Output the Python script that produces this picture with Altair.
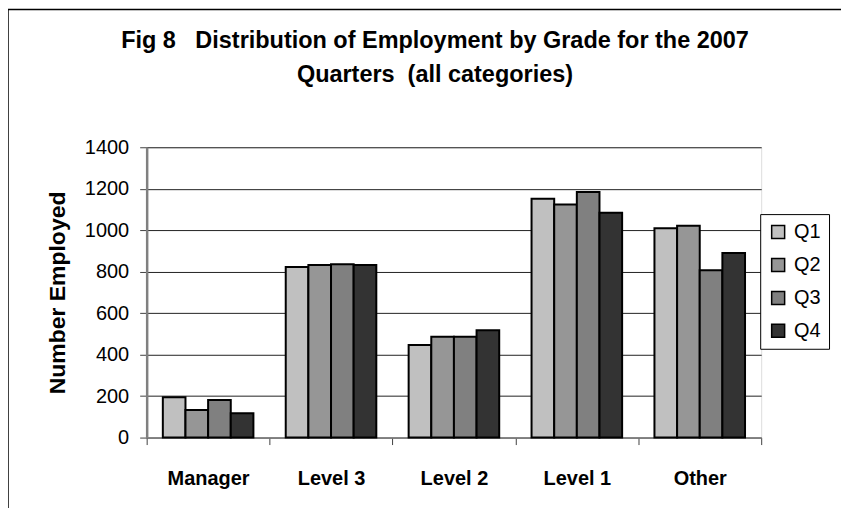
import altair as alt
import pandas as pd

grades = ["Manager", "Level 3", "Level 2", "Level 1", "Other"]
quarters = ["Q1", "Q2", "Q3", "Q4"]
q1 = [194, 823, 446, 1152, 1010]
q2 = [133, 832, 486, 1124, 1022]
q3 = [181, 836, 486, 1184, 807]
q4 = [117, 832, 517, 1084, 890]
colors = ["#c0c0c0", "#969696", "#808080", "#333333"]
y_ticks = [0, 200, 400, 600, 800, 1000, 1200, 1400]
title_lines = ["Fig 8\u00a0\u00a0\u00a0Distribution of Employment by Grade for the 2007",
               "Quarters\u00a0\u00a0(all categories)"]

rows = []
for qi, series in zip(quarters, [q1, q2, q3, q4]):
    for g, v in zip(grades, series):
        rows.append({"Grade": g, "Quarter": qi, "Employed": v})
df = pd.DataFrame(rows)

FONT = "Liberation Sans"

bars = alt.Chart(df).mark_bar(stroke="black", strokeWidth=2).encode(
    x=alt.X("Grade:N", sort=grades,
            scale=alt.Scale(paddingInner=0, paddingOuter=0),
            axis=alt.Axis(title=None, labelAngle=0, tickBand="extent",
                          labelFont=FONT, labelFontSize=20, labelFontWeight="bold",
                          labelColor="black", labelPadding=24, tickSize=7,
                          tickColor="#404040", domainColor="#808080", domainWidth=1.5)),
    xOffset=alt.XOffset("Quarter:N", sort=quarters,
                        scale=alt.Scale(paddingInner=0, paddingOuter=0.714)),
    y=alt.Y("Employed:Q", scale=alt.Scale(domain=[0, 1400], nice=False),
            axis=alt.Axis(title="Number Employed", values=y_ticks, format="d",
                          titleFont=FONT, titleFontSize=23, titleFontWeight="bold",
                          titleColor="black", titlePadding=15,
                          labelFont=FONT, labelFontSize=20, labelColor="black",
                          labelPadding=11, tickSize=7, tickColor="#404040",
                          domainColor="#808080", domainWidth=2.5,
                          gridColor="#222222", gridWidth=1)),
    color=alt.Color("Quarter:N", sort=quarters,
                    scale=alt.Scale(domain=quarters, range=colors),
                    legend=alt.Legend(title=None, orient="none", legendX=615, legendY=67,
                                      fillColor="white", strokeColor="black",
                                      padding=8, symbolType="square", symbolSize=169,
                                      symbolStrokeColor="black", symbolStrokeWidth=1.5,
                                      labelFont=FONT, labelFontSize=20, labelColor="black",
                                      labelOffset=6, rowPadding=13)),
)

frame_df = pd.DataFrame({"k": [0]})
left_edge = alt.Chart(frame_df).mark_rule(color="black", strokeWidth=1.5).encode(
    x=alt.value(-139), y=alt.value(-138), y2=alt.value(400))
top_edge = alt.Chart(frame_df).mark_rule(color="black", strokeWidth=1.5).encode(
    x=alt.value(-139), x2=alt.value(710), y=alt.value(-138))

chart = alt.layer(bars, left_edge, top_edge).properties(
    width=616, height=291,
    autosize=alt.AutoSizeParams(type="none"),
    padding={"left": 139, "top": 139, "right": 80, "bottom": 70},
    title=alt.TitleParams(
        title_lines,
        font=FONT, fontSize=23.5, fontWeight="bold", color="black",
        lineHeight=34, anchor="middle", frame="group", dx=-19,
        baseline="alphabetic", offset=0, dy=97),
).configure_view(stroke="#808080", strokeWidth=2).configure(background="white")

chart.save("out.html", embed_options={"renderer": "svg", "actions": False})
